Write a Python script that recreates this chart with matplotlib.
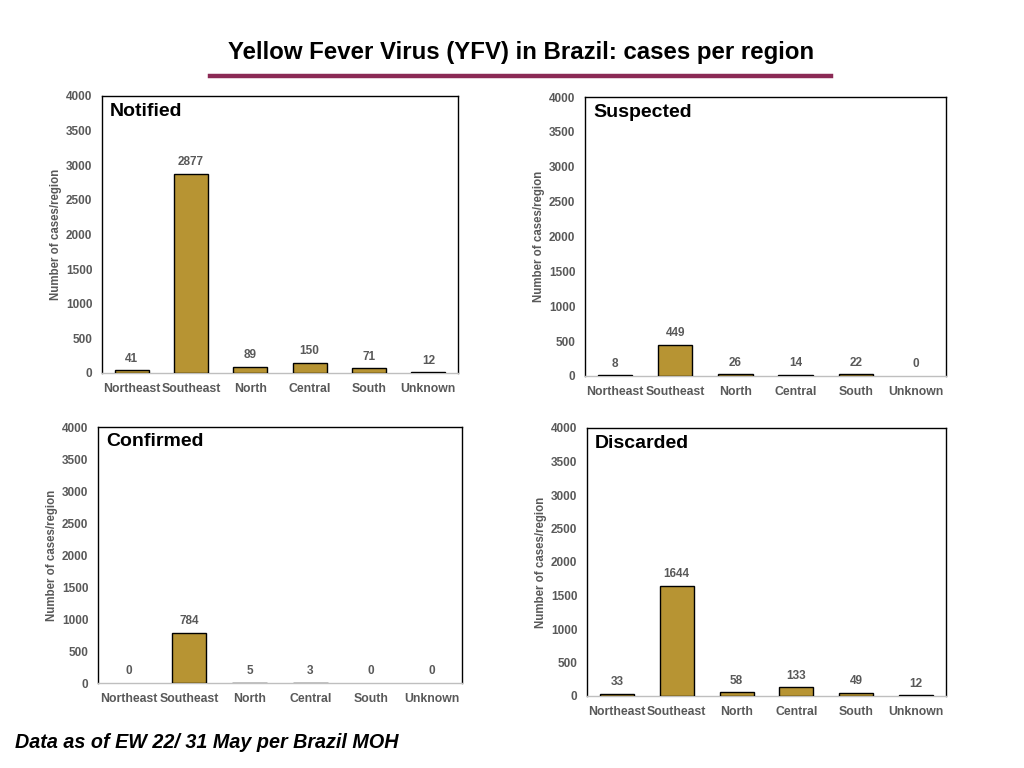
import matplotlib
matplotlib.use("Agg")
import matplotlib.pyplot as plt
from matplotlib.lines import Line2D

plt.rcParams['font.family'] = ['Liberation Sans', 'DejaVu Sans']

regions = ["Northeast", "Southeast", "North", "Central", "South", "Unknown"]
notified = [41, 2877, 89, 150, 71, 12]
suspected = [8, 449, 26, 14, 22, 0]
confirmed = [0, 784, 5, 3, 0, 0]
discarded = [33, 1644, 58, 133, 49, 12]
panel_titles = ["Notified", "Suspected", "Confirmed", "Discarded"]
yticks = [0, 500, 1000, 1500, 2000, 2500, 3000, 3500, 4000]

title = "Yellow Fever Virus (YFV) in Brazil: cases per region"
footer = "Data as of EW 22/ 31 May per Brazil MOH"
ylabel = "Number of cases/region"

BAR = "#B79433"
GRAY = "#595959"

W, H = 1024, 768
fig = plt.figure(figsize=(W / 100, H / 100), dpi=100)


def rect(l, t, r, b):
    return [l / W, 1 - b / H, (r - l) / W, (b - t) / H]


boxes = [(102, 96, 458, 373), (585, 97, 946, 376),
         (98, 427, 462, 683), (587, 428, 946, 696)]
series = [notified, suspected, confirmed, discarded]

for (l, t, r, b), vals, name in zip(boxes, series, panel_titles):
    ax = fig.add_axes(rect(l, t, r, b))
    x = list(range(len(regions)))
    bars = ax.bar(x, vals, width=0.57, color=BAR, edgecolor="black", linewidth=1.0, zorder=3)
    for bar, v in zip(bars, vals):
        if v == 0:
            bar.set_visible(False)
    ax.set_xlim(-0.5, len(regions) - 0.5)
    ax.set_ylim(0, 4000)
    ax.set_yticks(yticks)
    ax.set_yticklabels([str(v) for v in yticks], fontsize=8.5, fontweight="bold", color=GRAY)
    ax.set_xticks(x)
    ax.set_xticklabels(regions, fontsize=8.8, fontweight="bold", color=GRAY)
    ax.tick_params(axis="both", length=0)
    ax.tick_params(axis="y", pad=7)
    ax.tick_params(axis="x", pad=7)
    for s in ["top", "left", "right"]:
        ax.spines[s].set_color("black")
        ax.spines[s].set_linewidth(1.0)
    ax.spines["bottom"].set_color("#BFBFBF")
    ax.spines["bottom"].set_linewidth(1.0)
    ax.set_ylabel(ylabel, fontsize=8.3, fontweight="bold", color=GRAY, labelpad=3)
    for xi, v in zip(x, vals):
        ax.annotate(str(v), (xi, v), xytext=(0, 4), textcoords="offset points",
                    ha="center", va="bottom", fontsize=8.5, fontweight="bold", color=GRAY)
    ax.text(0.022, 0.975, name, transform=ax.transAxes, ha="left", va="top",
            fontsize=14, fontweight="bold", color="black")

fig.text(521 / W, 1 - 52 / H, title, ha="center", va="center",
         fontsize=17.3, fontweight="bold", color="black")
fig.add_artist(Line2D([210 / W, 831 / W], [1 - 76 / H, 1 - 76 / H],
                      color="#8B2A55", linewidth=3.2, transform=fig.transFigure))
fig.text(15 / W, 1 - 742 / H, footer, ha="left", va="center",
         fontsize=14.2, fontweight="bold", style="italic", color="black")

fig.savefig("out.png", dpi=100)
